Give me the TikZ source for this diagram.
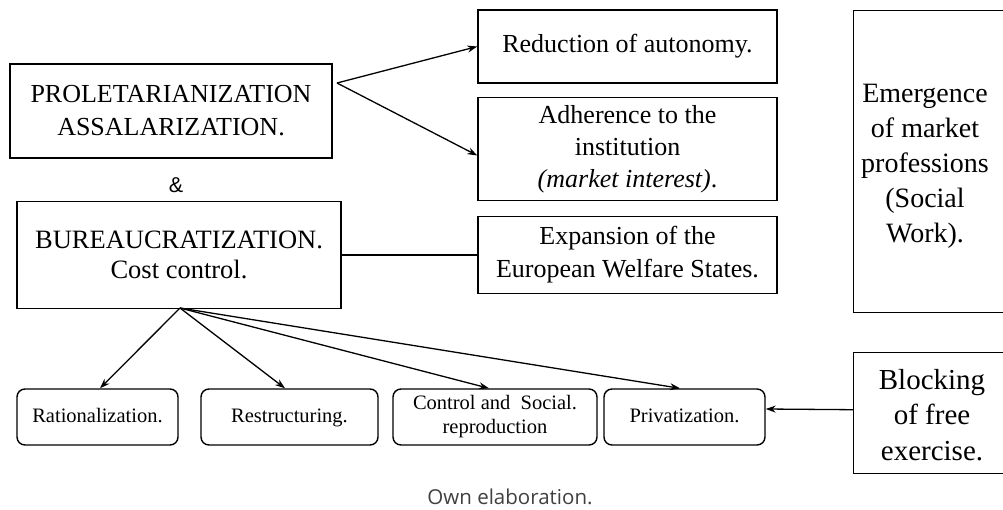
\documentclass[tikz,border=0pt]{standalone}
\usepackage{fontspec}
\setmainfont{Liberation Serif}
\newfontfamily\capfont{Open Sans}
\newfontfamily\ampfont{Liberation Sans}
\usetikzlibrary{arrows.meta,calc}
\tikzset{
  box/.style={draw, line width=1.4pt, align=center, inner sep=0pt},
  rbox/.style={draw, line width=1.4pt, align=center, inner sep=0pt, rounded corners=8pt, minimum height=56pt,
    font=\fontsize{20.5}{24}\selectfont},
  one/.style={text height=14pt, text depth=4pt},
  big/.style={font=\fontsize{26}{33}\selectfont},
  arr/.style={line width=1.3pt, -{Stealth[length=10pt,width=7pt]}},
  ln/.style={line width=1.3pt},
}
\begin{document}
\begin{tikzpicture}[x=1pt,y=-1pt]
\useasboundingbox (0,0) rectangle (1003,509);
% top-left
\node[box, font=\fontsize{26}{33}\selectfont, minimum width=322pt, minimum height=94pt] (prol) at (171,111)
  {PROLETARIANIZATION\\ASSALARIZATION.};
\node[font=\ampfont\fontsize{21.5}{24}\selectfont] (amp) at (176,185) {\&};
\node[box, font=\fontsize{26.5}{30}\selectfont, minimum width=324pt, minimum height=107pt] (bur) at (179,255)
  {BUREAUCRATIZATION.\\Cost control.};
% middle column
\node[box, big, minimum width=299pt, minimum height=73pt] (red) at (627.5,46.5) {Reduction of autonomy.};
\node[box, big, font=\fontsize{26}{32}\selectfont, minimum width=299pt, minimum height=103pt] (adh) at (627.5,149)
  {Adherence to the\\institution\\\textit{(market interest)}.};
\node[box, big, minimum width=299pt, minimum height=77pt] (exp) at (627.5,255)
  {Expansion of the\\European Welfare States.};
% right column
\node[box, minimum width=157pt, minimum height=302pt, anchor=north west] (emerg) at (853,10) {};
\node[font=\fontsize{28}{35}\selectfont, align=center] (emergt) at (925,166)
  {Emergence\\of market\\professions\\(Social\\Work).};
\node[box, minimum width=157pt, minimum height=121pt, anchor=north west] (block) at (853,352) {};
\node[font=\fontsize{29}{35.5}\selectfont, align=center] (blockt) at (932,415)
  {Blocking\\of free\\exercise.};
% bottom row
\node[rbox, one, minimum width=161pt] (rat) at (97.5,417) {Rationalization.};
\node[rbox, one, minimum width=177pt] (res) at (289.5,417) {Restructuring.};
\node[rbox, minimum width=204pt] (con) at (495,417) {Control and \ Social.\\reproduction};
\node[rbox, one, minimum width=161pt] (pri) at (684.5,417) {Privatization.};
% caption
\node[font=\capfont\fontsize{20.5}{24}\selectfont, text=black!75] (cap) at (510,497) {Own elaboration.};
% connectors
\coordinate (fork) at (337,83);
\draw[arr] (fork) -- (red.west);
\draw[arr] (fork) -- ($(adh.west)+(0,6.5)$);
\draw[ln] (bur.east) -- (exp.west);
\coordinate (src) at (180,308);
\draw[arr] (src) -- ($(rat.north)+(2.5,0)$);
\draw[arr] (src) -- ($(res.north)+(-4.5,0)$);
\draw[arr] (src) -- ($(con.north)+(-6,0)$);
\draw[arr] (src) -- ($(pri.north)+(-4.5,0)$);
\draw[arr] ($(block.west)+(0,-3.5)$) -- ($(pri.east)+(0,-8)$);
\end{tikzpicture}
\end{document}
